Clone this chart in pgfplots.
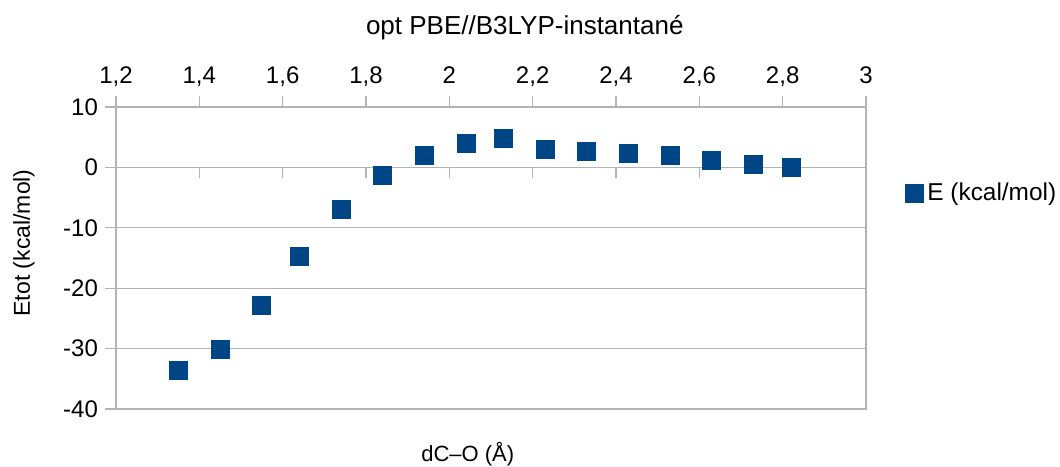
\documentclass[border=0pt]{standalone}
\usepackage{fontspec}
\setmainfont{Liberation Sans}
\usepackage{pgfplots}
\pgfplotsset{compat=1.18}
\definecolor{lobl}{HTML}{004586}
\definecolor{grd}{HTML}{B3B3B3}
\begin{document}
\begin{tikzpicture}
\useasboundingbox (-58pt,-28.5pt) rectangle (472pt,204.5pt);
\begin{axis}[
  at={(0,0)}, anchor=south west,
  scale only axis, width=375pt, height=151pt,
  xmin=1.2, xmax=3, ymin=-40, ymax=10,
  xtick={1.2,1.4,1.6,1.8,2,2.2,2.4,2.6,2.8,3},
  xticklabels={{1,2},{1,4},{1,6},{1,8},2,{2,2},{2,4},{2,6},{2,8},3},
  ytick={-40,-30,-20,-10,0,10},
  yticklabels={-40,-30,-20,-10,0,10},
  xtick pos=right, xticklabel pos=right,
  ytick pos=left,
  tick align=outside, major tick length=5.5pt,
  tick style={grd, line width=0.6pt},
  axis line style={grd, line width=0.6pt},
  ymajorgrids, grid style={grd, line width=0.6pt},
  tick label style={font=\fontsize{12}{14}\selectfont},
  xticklabel style={text depth=0.25em},
  title={opt PBE//B3LYP-instantané},
  title style={at={(axis description cs:0.545,1.222)}, anchor=center, font=\fontsize{13}{15}\selectfont},
  xlabel={dC–O (Å)},
  xlabel style={at={(axis description cs:0.469,-0.15)}, anchor=center, font=\fontsize{11}{13}\selectfont},
  ylabel={Etot (kcal/mol)},
  ylabel style={at={(axis description cs:-0.1227,0.55)}, anchor=center, font=\fontsize{11.5}{13}\selectfont},
  legend style={at={(axis description cs:1.052,0.714)}, anchor=west, draw=none, fill=none,
    inner sep=0pt, font=\fontsize{12.2}{14}\selectfont},
  legend image code/.code={\draw[#1] plot coordinates {(4.25pt,0pt)};},
]
\pgfplotsinvokeforeach{1.4,1.6,1.8,2,2.2,2.4,2.6,2.8}{
  \draw[grd, line width=0.6pt] (axis cs:#1,0) -- ++(0pt,-5.5pt);
}
\addplot[only marks, mark=square*, mark size=4.5pt, mark options={draw=lobl, fill=lobl, line width=0pt}, color=lobl]
coordinates {
(1.35,-33.65) (1.45,-30.1) (1.55,-22.9) (1.64,-14.7) (1.74,-6.9) (1.84,-1.3)
(1.94,1.9) (2.04,4.0) (2.13,4.75) (2.23,2.9) (2.33,2.6) (2.43,2.3)
(2.53,1.9) (2.63,1.2) (2.73,0.55) (2.82,-0.05)
};
\addlegendentry{E (kcal/mol)}
\end{axis}
\end{tikzpicture}
\end{document}
